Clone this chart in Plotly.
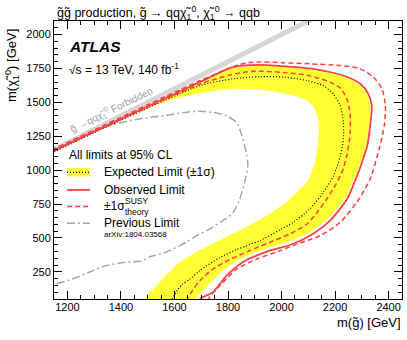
import plotly.graph_objects as go

# ---- data (GeV) ----
obs_x = [1140, 1694, 1818, 1908, 2005, 2133, 2230, 2294, 2324, 2337, 2331, 2320, 2305, 2282,
         2245, 2181, 2106, 2031, 1956, 1855, 1795, 1743, 1698, 1690]
obs_y = [1137, 1649, 1760, 1777, 1767, 1742, 1698, 1637, 1563, 1474, 1327, 1179, 1083, 958,
         788, 628, 517, 448, 406, 321, 222, 99, 55, 20]

thup_x = [1140, 1694, 1844, 1908, 2005, 2106, 2219, 2294, 2343, 2375, 2388, 2384, 2365, 2331,
          2282, 2219, 2144, 2069, 1994, 1908, 1833, 1769, 1731, 1725]
thup_y = [1148, 1659, 1780, 1797, 1792, 1784, 1772, 1747, 1686, 1600, 1476, 1329, 1157, 935,
          766, 616, 517, 463, 406, 345, 271, 148, 62, 20]

thdn_x = [1140, 1694, 1818, 1893, 2005, 2106, 2181, 2219, 2244, 2256, 2256, 2245, 2230, 2204,
          2169, 2137, 2095, 2031, 1956, 1881, 1806, 1739, 1694, 1668, 1650, 1645]
thdn_y = [1133, 1633, 1707, 1729, 1721, 1696, 1649, 1607, 1526, 1415, 1268, 1120, 1009, 899,
          788, 699, 603, 530, 468, 406, 341, 264, 183, 116, 55, 20]

exp_x = [1140, 1694, 1818, 1919, 2005, 2095, 2155, 2193, 2219, 2231, 2231, 2219, 2194, 2156,
         2106, 2044, 1994, 1919, 1833, 1769, 1694, 1656, 1631, 1611, 1594, 1590]
exp_y = [1126, 1622, 1673, 1690, 1686, 1661, 1624, 1563, 1476, 1354, 1231, 1098, 958, 837,
         714, 616, 559, 480, 415, 355, 259, 194, 161, 116, 55, 20]

# +-1 sigma expected band: outer edge and inner edge
band_hi_x = [1140, 1694, 1818, 1908, 2005, 2133, 2230, 2290, 2320, 2331, 2326, 2315, 2300, 2275,
             2238, 2174, 2099, 2024, 1949, 1844, 1776, 1720, 1683, 1678]
band_hi_y = [1135, 1640, 1751, 1769, 1760, 1735, 1690, 1629, 1555, 1474, 1327, 1179, 1083, 958,
             795, 644, 537, 470, 426, 345, 249, 138, 55, 20]
band_lo_x = [1140, 1400, 1506, 1600, 1694, 1818, 1945, 2043, 2095, 2125, 2138, 2138, 2125, 2095,
             2069, 2020, 1944, 1856, 1769, 1694, 1619, 1556, 1491, 1485]
band_lo_y = [1133, 1368, 1460, 1526, 1566, 1600, 1587, 1550, 1513, 1452, 1354, 1231, 1059, 911,
             862, 766, 664, 568, 483, 408, 320, 197, 55, 20]

prev_x = [1225, 1356, 1469, 1570, 1645, 1694, 1743, 1796, 1833, 1852, 1869, 1874, 1865, 1844,
          1818, 1773, 1731, 1683, 1645, 1570, 1506, 1480, 1420, 1345, 1281, 1219, 1156, 1131]
prev_y = [1225, 1329, 1378, 1404, 1428, 1434, 1426, 1400, 1349, 1253, 1120, 1031, 935, 788,
          685, 618, 566, 517, 470, 397, 360, 332, 321, 296, 247, 197, 160, 146]

# kinematic limit m(chi) = m(gluino)
kin_x = [1100, 2200]
kin_y = [1100, 2200]

RED = "#ff4040"
YELLOW = "#ffff33"
GREY = "#a8a8a8"
FONT = "Liberation Sans, Arial, sans-serif"
SMOOTH = 0.7

fig = go.Figure()

fig.add_trace(go.Scatter(x=kin_x, y=kin_y, mode="lines",
                         line=dict(color="#d6d6d6", width=5), hoverinfo="skip"))

fig.add_trace(go.Scatter(
    x=band_hi_x + band_lo_x[::-1], y=band_hi_y + band_lo_y[::-1],
    mode="lines", fill="toself", fillcolor=YELLOW,
    line=dict(width=0, shape="spline", smoothing=SMOOTH), hoverinfo="skip"))

fig.add_trace(go.Scatter(x=prev_x, y=prev_y, mode="lines",
                         line=dict(color=GREY, width=1.5, dash="8px,3px,2px,3px",
                                   shape="spline", smoothing=SMOOTH)))
fig.add_trace(go.Scatter(x=exp_x, y=exp_y, mode="lines",
                         line=dict(color="black", width=1.2, dash="1px,2px",
                                   shape="spline", smoothing=SMOOTH)))
fig.add_trace(go.Scatter(x=thdn_x, y=thdn_y, mode="lines",
                         line=dict(color=RED, width=1.5, dash="5px,3px",
                                   shape="spline", smoothing=SMOOTH)))
fig.add_trace(go.Scatter(x=thup_x, y=thup_y, mode="lines",
                         line=dict(color=RED, width=1.5, dash="5px,3px",
                                   shape="spline", smoothing=SMOOTH)))
fig.add_trace(go.Scatter(x=obs_x, y=obs_y, mode="lines",
                         line=dict(color=RED, width=1.8, shape="spline", smoothing=SMOOTH)))


# pixel -> paper helpers for the decorations
def px(x):
    return (x - 54) / 348


def py(y):
    return (299 - y) / 278


ann = []


def text(x, y, s, size=12, color="black", anchor="left", angle=0, ref="paper"):
    ann.append(dict(x=x, y=y, xref=ref, yref=ref, text=s, showarrow=False,
                    xanchor=anchor, yanchor="middle", textangle=angle,
                    font=dict(family=FONT, size=size, color=color)))


chi = "χ̃<sub>1</sub><sup>0</sup>"
text(px(55), py(13), f"g̃g̃ production, g̃ → qq{chi}, {chi} → qqb", size=12.5)
text(px(67), py(46.5), "<b><i>ATLAS</i></b>", size=15.5)
text(px(67), py(69), "√s = 13 TeV, 140 fb<sup>-1</sup>", size=12)
text(px(67), py(155), "All limits at 95% CL", size=12)
text(px(101.5), py(171.5), "Expected Limit (±1σ)", size=12)
text(px(101.5), py(190), "Observed Limit", size=12)
text(px(101.5), py(206), "±1σ", size=12)
text(px(123), py(201), "SUSY", size=8.5)
text(px(123), py(212), "theory", size=8.5)
text(px(101.5), py(223), "Previous Limit", size=12)
text(px(101.5), py(234), "arXiv:1804.03568", size=8)
text(px(369), py(322), "m(g̃) [GeV]", size=13, anchor="center")
text(px(12), py(66), f"m({chi}) [GeV]", size=13, anchor="center", angle=-90)
# label along the kinematic limit, in data coordinates
ann.append(dict(x=1365, y=1445, xref="x", yref="y", text=f"g̃ →qq{chi} Forbidden",
                showarrow=False, textangle=-26,
                font=dict(family=FONT, size=10, color="#a0a0a0")))

shapes = [
    dict(type="rect", xref="paper", yref="paper", x0=px(67), x1=px(90), y0=py(176.5), y1=py(168),
         fillcolor=YELLOW, line=dict(width=0)),
    dict(type="line", xref="paper", yref="paper", x0=px(67), x1=px(90), y0=py(172.3), y1=py(172.3),
         line=dict(color="black", width=1.2, dash="1px,2px")),
    dict(type="line", xref="paper", yref="paper", x0=px(67), x1=px(90), y0=py(190), y1=py(190),
         line=dict(color=RED, width=1.8)),
    dict(type="line", xref="paper", yref="paper", x0=px(67), x1=px(90), y0=py(206.5), y1=py(206.5),
         line=dict(color=RED, width=1.5, dash="5px,3px")),
    dict(type="line", xref="paper", yref="paper", x0=px(67), x1=px(90), y0=py(223.3), y1=py(223.3),
         line=dict(color=GREY, width=1.5, dash="8px,3px,2px,3px")),
]

axis_common = dict(showline=True, linecolor="black", linewidth=1, mirror="allticks",
                   ticks="inside", ticklen=8, tickcolor="black", showgrid=False, zeroline=False,
                   automargin=False,
                   tickfont=dict(family=FONT, size=11, color="black"))

fig.update_layout(
    template="none",
    width=407, height=340,
    margin=dict(l=54, r=5, t=21, b=41, autoexpand=False),
    paper_bgcolor="white", plot_bgcolor="white",
    showlegend=False,
    annotations=ann, shapes=shapes,
    xaxis=dict(range=[1150, 2450], dtick=200, ticklabelstandoff=-2,
               minor=dict(dtick=50, ticks="inside", ticklen=4, tickcolor="black"),
               **axis_common),
    yaxis=dict(range=[50, 2100], dtick=250, tick0=0,
               minor=dict(dtick=50, ticks="inside", ticklen=4, tickcolor="black"),
               **axis_common),
)

# the page's default body margin would shift the whole figure by 8 px
fig.write_html("out.html", config={"displayModeBar": False},
               post_script="document.body.style.margin='0';")
